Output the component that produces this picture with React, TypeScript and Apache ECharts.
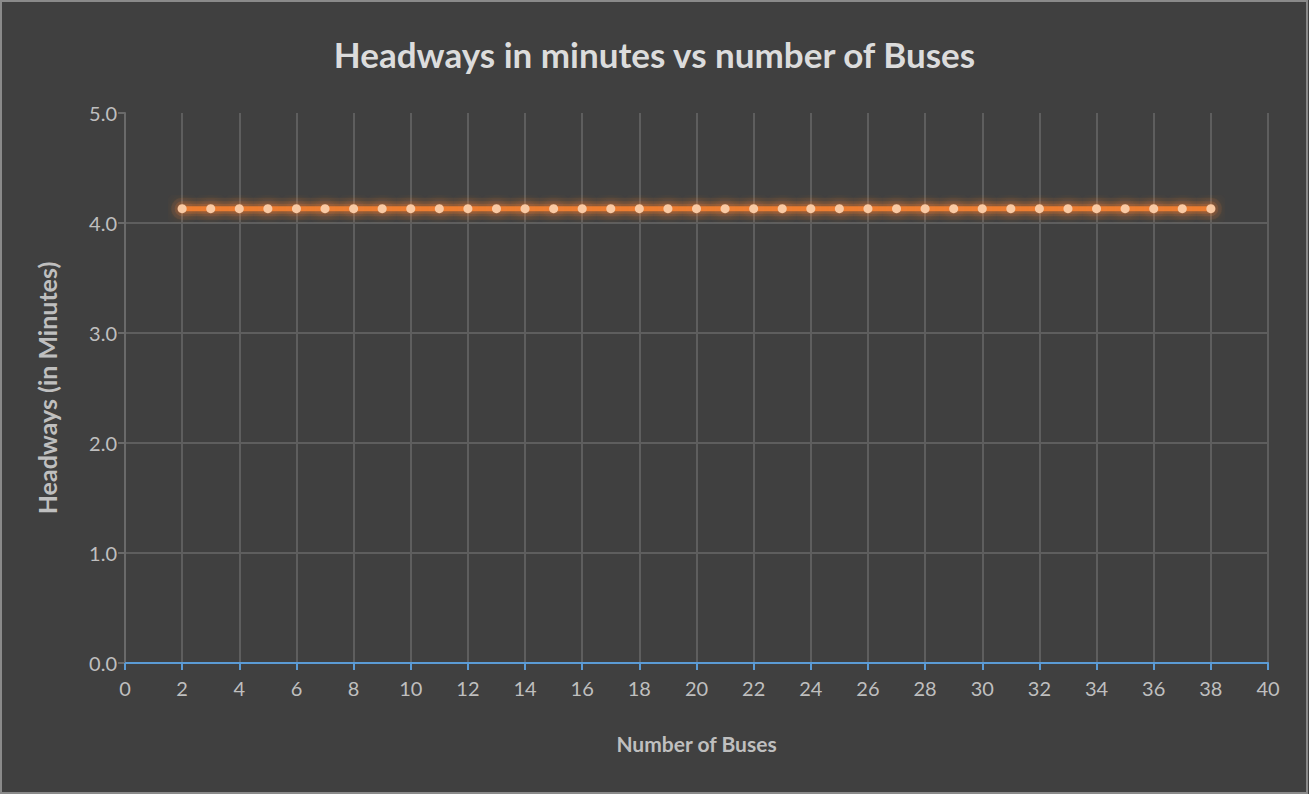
import React, { useEffect, useRef } from "react";
import * as echarts from "echarts";

const busCounts: number[] = [
  2, 3, 4, 5, 6, 7, 8, 9, 10, 11, 12, 13, 14, 15, 16, 17, 18, 19, 20,
  21, 22, 23, 24, 25, 26, 27, 28, 29, 30, 31, 32, 33, 34, 35, 36, 37, 38,
];
const headways: number[] = [
  4.13, 4.13, 4.13, 4.13, 4.13, 4.13, 4.13, 4.13, 4.13, 4.13, 4.13, 4.13,
  4.13, 4.13, 4.13, 4.13, 4.13, 4.13, 4.13, 4.13, 4.13, 4.13, 4.13, 4.13,
  4.13, 4.13, 4.13, 4.13, 4.13, 4.13, 4.13, 4.13, 4.13, 4.13, 4.13, 4.13,
  4.13,
];

const FONT = "Lato, 'Open Sans', sans-serif";

export default function App() {
  const ref = useRef<HTMLDivElement>(null);

  useEffect(() => {
    document.body.style.margin = "0";
    if (!ref.current) return;
    const chart = echarts.init(ref.current, null, { renderer: "svg" });
    const points = busCounts.map((x, i) => [x, headways[i]]);
    // layered translucent strokes give the line a soft glow
    const halo = (width: number, alpha: number, z: number) => ({
      type: "line",
      data: points,
      symbol: "none",
      silent: true,
      lineStyle: { color: `rgba(237,125,49,${alpha})`, width, cap: "round" },
      z,
    });
    chart.setOption({
      animation: false,
      backgroundColor: "#404040",
      title: {
        text: "Headways in minutes vs number of Buses",
        left: "center",
        top: 31,
        textStyle: {
          color: "#dcdcdc",
          fontFamily: FONT,
          fontSize: 35,
          fontWeight: "bold",
        },
      },
      graphic: [
        {
          type: "rect",
          shape: { x: 1, y: 1, width: 1306, height: 792 },
          style: { fill: "none", stroke: "#8a8a8a", lineWidth: 2 },
          silent: true,
        },
      ],
      grid: { left: 125, right: 41, top: 113, bottom: 131 },
      xAxis: {
        type: "value",
        min: 0,
        max: 40,
        interval: 2,
        name: "Number of Buses",
        nameLocation: "middle",
        nameGap: 70,
        nameTextStyle: {
          color: "#bfbfbf",
          fontFamily: FONT,
          fontSize: 21,
          fontWeight: "bold",
        },
        axisLine: { show: true, lineStyle: { color: "#5b9bd5", width: 2 } },
        axisTick: { show: true, length: 7, lineStyle: { color: "#5b9bd5", width: 2 } },
        axisLabel: { color: "#bfbfbf", fontFamily: FONT, fontSize: 20, margin: 15 },
        splitLine: { show: true, lineStyle: { color: "#5e5e5e", width: 2 } },
      },
      yAxis: {
        type: "value",
        min: 0,
        max: 5,
        interval: 1,
        name: "Headways (in Minutes)",
        nameLocation: "middle",
        nameGap: 66,
        nameTextStyle: {
          color: "#bfbfbf",
          fontFamily: FONT,
          fontSize: 25,
          fontWeight: "bold",
        },
        axisLine: { show: true, lineStyle: { color: "#6a6a6a", width: 2 } },
        axisTick: { show: true, length: 7, lineStyle: { color: "#6a6a6a", width: 2 } },
        axisLabel: {
          color: "#bfbfbf",
          fontFamily: FONT,
          fontSize: 20,
          margin: 8,
          formatter: (v: number) => v.toFixed(1),
        },
        splitLine: {
          show: true,
          showMaxLine: false,
          lineStyle: { color: "#5e5e5e", width: 2 },
        },
      },
      series: [
        halo(22, 0.1, 1),
        halo(15, 0.16, 2),
        halo(10, 0.25, 2),
        {
          type: "line",
          data: points,
          symbol: "circle",
          symbolSize: 9,
          lineStyle: { color: "#ed7d31", width: 5 },
          itemStyle: {
            color: "#f9c9a3",
            borderWidth: 0,
            shadowColor: "rgba(237,125,49,0.9)",
            shadowBlur: 14,
          },
          z: 3,
        },
      ],
    });
    return () => chart.dispose();
  }, []);

  return <div ref={ref} style={{ width: 1309, height: 794 }} />;
}
